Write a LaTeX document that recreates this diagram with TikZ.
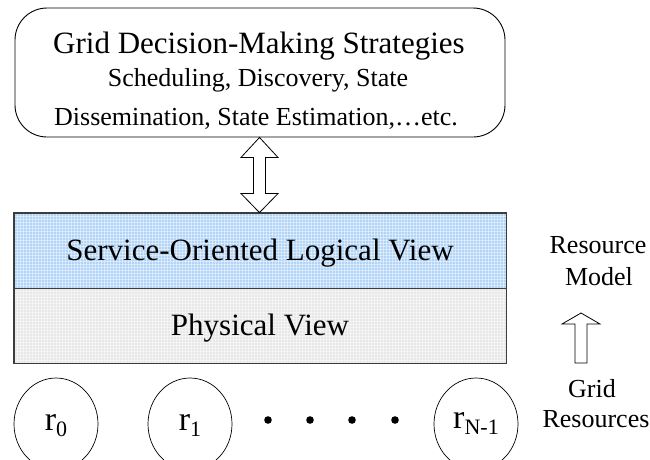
\documentclass[tikz,border=0pt]{standalone}
\usepackage{fontspec}
\setmainfont{Liberation Serif}
\usetikzlibrary{shapes.geometric,calc}
\definecolor{bandblue}{RGB}{178,212,246}
\definecolor{bandgray}{RGB}{232,232,232}
\definecolor{bandline}{RGB}{60,60,60}
\begin{document}
\begin{tikzpicture}[x=1pt,y=-1pt,
  fs/.style={font=\fontsize{#1}{#1}\selectfont},
  band/.style={draw=bandline, line width=0.9pt, inner sep=0pt, minimum width=492pt, minimum height=75pt},
  res/.style={draw, ellipse, line width=0.7pt, inner sep=0pt, minimum width=84pt, minimum height=92pt},
  hollow/.style={draw, line width=0.8pt, fill=white, line join=miter},
  texture/.style={white, line width=0.35pt, opacity=0.45}]
\useasboundingbox (0,0) rectangle (650,459);
\clip (0,0) rectangle (650,459);
\fill[white] (0,0) rectangle (650,459);

% top strategy box
\node[draw, line width=0.9pt, rounded corners=32pt, minimum width=490pt, minimum height=129pt] (strat) at (260,72.5) {};
\node[anchor=base, fs=31] (title) at (259,53) {Grid Decision-Making Strategies};
\node[anchor=base, fs=26] (l2) at (258,86) {Scheduling, Discovery, State};
\node[anchor=base, fs=26] (l3) at (256,125) {Dissemination, State Estimation,…etc.};

% bands
\node[band, fill=bandblue] (logical) at (260,250.5) {};
\node[band, fill=bandgray] (physical) at (260,325.5) {};
\foreach \x in {17,20,...,505} {
  \draw[texture] (\x,213.5) -- (\x,362.5);
}
\foreach \y in {216,219,...,362} {
  \draw[texture] (14.5,\y) -- (505.5,\y);
}
\draw[bandline, line width=0.9pt] (logical.north west) rectangle (physical.south east);
\draw[bandline, line width=0.9pt] (logical.south west) -- (logical.south east);
\node[anchor=base, fs=31] (logtxt) at (260,260) {Service-Oriented Logical View};
\node[anchor=base, fs=31] (phytxt) at (260,335) {Physical View};

% double arrow between box and bands
\coordinate (dt) at ($(strat.south)+(-0.5,0)$);
\coordinate (db) at ($(logical.north)+(-0.5,0)$);
\draw[hollow] (dt) -- ++(18.5,20) -- ++(-12.5,0) -- ($(db)+(6,-19)$) -- ++(12.5,0)
  -- (db) -- ++(-18.5,-19) -- ++(12.5,0) -- ($(dt)+(-6,20)$) -- ++(-12.5,0) -- cycle;

% right labels
\node[anchor=base, fs=26] (resmod1) at (598,253) {Resource};
\node[anchor=base, fs=26] (resmod2) at (599,285) {Model};
\node[anchor=base, fs=26] (gridres1) at (592,397) {Grid};
\node[anchor=base, fs=26] (gridres2) at (596,427) {Resources};

% up arrow
\coordinate (ut) at (581,313);
\coordinate (ub) at (581,363);
\draw[hollow] (ut) -- ++(19,11) -- ++(-13,0) -- ($(ub)+(6,0)$) -- ($(ub)+(-6,0)$)
  -- ($(ut)+(-6,11)$) -- ++(-13,0) -- cycle;

% resources
\node[res] (r0) at (56,424) {};
\node[res] (r1) at (190,424) {};
\node[res] (rn) at (476,424) {};
\node[anchor=base, fs=34] at (56,430) {r\raisebox{-6pt}{\fontsize{22}{22}\selectfont 0}};
\node[anchor=base, fs=34] at (190,430) {r\raisebox{-6pt}{\fontsize{22}{22}\selectfont 1}};
\node[anchor=base, fs=34] at (476,428) {r\raisebox{-6pt}{\fontsize{22}{22}\selectfont N-1}};

\foreach \x/\n in {268/d1,310/d2,352/d3,395/d4}
  \fill (\x,420) circle (3.8) coordinate (\n);
\end{tikzpicture}
\end{document}
